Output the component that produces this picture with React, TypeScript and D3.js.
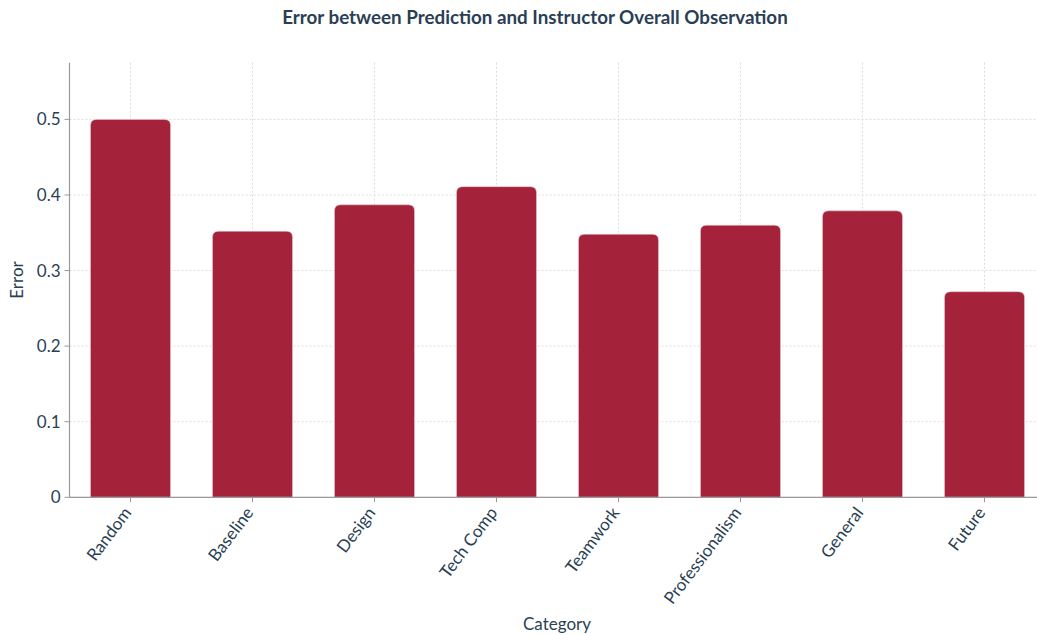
import React from "react";
import * as d3 from "d3";

const categories = ["Random", "Baseline", "Design", "Tech Comp", "Teamwork", "Professionalism", "General", "Future"];
const errors = [0.5, 0.352, 0.387, 0.411, 0.348, 0.36, 0.379, 0.272];
const yTicks = [0, 0.1, 0.2, 0.3, 0.4, 0.5];

const W = 1037;
const H = 635;
const left = 69.5;
const right = 1045.5;
const top = 62.7;
const bottom = 497.3;
const textColor = "#2a3f55";
const font = "Lato, 'Open Sans', sans-serif";

export default function App() {
  const x = d3.scaleBand<string>().domain(categories).range([left, right]).paddingInner(0.344).paddingOuter(0.172);
  const y = d3.scaleLinear().domain([0, 0.575]).range([bottom, top]);
  const fmt = (v: number) => (v === 0 ? "0" : d3.format(".1f")(v));
  const r = 6;
  const barPath = (cx: number, w: number, y0: number, y1: number) => {
    const x0 = cx - w / 2;
    const x1 = cx + w / 2;
    return `M${x0},${y0}V${y1 + r}Q${x0},${y1} ${x0 + r},${y1}H${x1 - r}Q${x1},${y1} ${x1},${y1 + r}V${y0}Z`;
  };
  return (
    <div style={{ position: "absolute", left: 0, top: 0 }}>
      <svg width={W} height={H} style={{ display: "block", fontFamily: font }}>
        <rect width={W} height={H} fill="#fff" />
        <text x={535} y={24} textAnchor="middle" fontSize={18.8} fontWeight={700} fill={textColor}>
          Error between Prediction and Instructor Overall Observation
        </text>
        {yTicks.map((t) => (
          <line key={"gy" + t} x1={left} x2={right} y1={y(t)} y2={y(t)} stroke="#dcdcdc" strokeWidth={1} strokeDasharray="2,2" />
        ))}
        {categories.map((c) => {
          const cx = (x(c) as number) + x.bandwidth() / 2;
          return <line key={"gx" + c} x1={cx} x2={cx} y1={top} y2={bottom} stroke="#dcdcdc" strokeWidth={1} strokeDasharray="2,2" />;
        })}
        {categories.map((c, i) => {
          const cx = (x(c) as number) + x.bandwidth() / 2;
          return (
            <path key={"b" + c} d={barPath(cx, x.bandwidth(), y(0), y(errors[i]))} fill="#a4233b" stroke="#e8c8ce" strokeWidth={0.6} />
          );
        })}
        <line x1={left} x2={left} y1={top} y2={bottom} stroke="#999" strokeWidth={1.2} />
        <line x1={left} x2={right} y1={bottom} y2={bottom} stroke="#999" strokeWidth={1.2} />
        {yTicks.map((t) => (
          <g key={"yt" + t}>
            <line x1={left - 5} x2={left} y1={y(t)} y2={y(t)} stroke="#999" />
            <text x={left - 9} y={y(t)} dy="0.35em" textAnchor="end" fontSize={17} fill={textColor}>
              {fmt(t)}
            </text>
          </g>
        ))}
        {categories.map((c) => {
          const cx = (x(c) as number) + x.bandwidth() / 2;
          return (
            <g key={"xt" + c}>
              <line x1={cx} x2={cx} y1={bottom} y2={bottom + 5} stroke="#999" />
              <text
                transform={`translate(${cx - 3},${bottom + 12}) rotate(-53)`}
                textAnchor="end"
                dy="0.35em"
                fontSize={17}
                fill={textColor}
              >
                {c}
              </text>
            </g>
          );
        })}
        <text x={557} y={630} textAnchor="middle" fontSize={17} fill={textColor}>
          Category
        </text>
        <text transform={`translate(23,${(top + bottom) / 2}) rotate(-90)`} textAnchor="middle" fontSize={17} fill={textColor}>
          Error
        </text>
      </svg>
    </div>
  );
}
